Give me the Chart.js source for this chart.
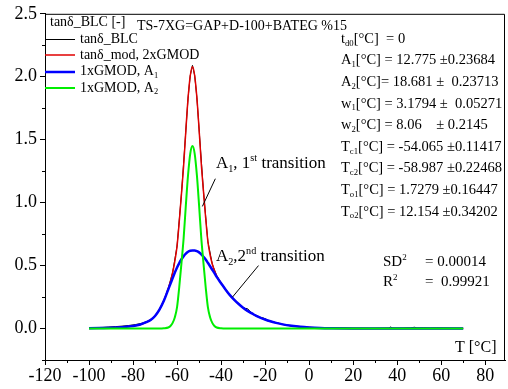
<!DOCTYPE html>
<html>
<head>
<meta charset="utf-8">
<script src="https://cdn.jsdelivr.net/npm/chart.js@4.4.0/dist/chart.umd.min.js"></script>
<style>
  html, body { margin: 0; padding: 0; background: #fff; }
  #wrap { width: 508px; height: 389px; }
</style>
</head>
<body>
<div id="wrap"><canvas id="chart" width="508" height="389"></canvas></div>
<script>
// Temperature grid shared by the fitted curves [°C]
const temps = [-100, -95, -90, -85, -80, -77, -74, -72, -70, -68, -66, -64, -63, -62, -61,
  -60, -59, -58, -57, -56, -55, -54, -53, -52, -51, -50, -49, -48, -47, -46, -45, -44, -43,
  -42, -40, -38, -36, -34, -32, -30, -28, -26, -24, -22, -20, -18, -15, -12, -8, -4, 0, 5,
  10, 20, 30, 40, 50, 60, 70];

// 1xGMOD, A1 (wide peak)
const gmodA1 = [0.002, 0.004, 0.006, 0.011, 0.02, 0.03, 0.05, 0.068, 0.10, 0.15, 0.22, 0.31,
  0.355, 0.40, 0.445, 0.485, 0.52, 0.55, 0.575, 0.595, 0.61, 0.618, 0.62, 0.62, 0.615, 0.605,
  0.59, 0.57, 0.548, 0.522, 0.495, 0.467, 0.44, 0.41, 0.36, 0.31, 0.265, 0.228, 0.195, 0.165,
  0.14, 0.12, 0.10, 0.085, 0.072, 0.06, 0.045, 0.033, 0.022, 0.014, 0.009, 0.005, 0.003,
  0.001, 0, 0, 0, 0, 0];

// 1xGMOD, A2 (narrow peak)
const gmodA2 = [0, 0, 0, 0, 0, 0, 0, 0, 0, 0, 0.002, 0.008, 0.02, 0.045, 0.09, 0.17, 0.33,
  0.52, 0.72, 0.98, 1.22, 1.39, 1.45, 1.39, 1.22, 0.98, 0.72, 0.52, 0.33, 0.17, 0.09, 0.045,
  0.02, 0.008, 0.002, 0, 0, 0, 0, 0, 0, 0, 0, 0, 0, 0, 0, 0, 0, 0, 0, 0, 0, 0, 0, 0, 0, 0, 0];

// tanδ_mod, 2xGMOD (sum of both)
const tanMod = [0.002, 0.004, 0.006, 0.011, 0.02, 0.03, 0.05, 0.068, 0.10, 0.15, 0.222, 0.318,
  0.375, 0.445, 0.535, 0.655, 0.85, 1.07, 1.295, 1.575, 1.83, 2.008, 2.08, 2.01, 1.835, 1.585,
  1.31, 1.09, 0.878, 0.692, 0.585, 0.512, 0.46, 0.418, 0.362, 0.31, 0.265, 0.228, 0.195,
  0.165, 0.14, 0.12, 0.10, 0.085, 0.072, 0.06, 0.045, 0.033, 0.022, 0.014, 0.009, 0.005,
  0.003, 0.001, 0, 0, 0, 0, 0];

// measured tanδ_BLC
const blcTemps = [-100, -97, -94, -91, -88, -85, -82, -79, -76, -73, -70, -68, -66, -64, -62,
  -60, -58, -56, -55, -54, -53, -52, -51, -50, -48, -46, -44, -42, -40, -38, -36, -34, -32,
  -30, -29, -28, -27, -26, -25, -24, -22, -21, -20, -18, -16, -14, -12, -10, -8, -6, -4, -2,
  0, 3, 6, 9, 12, 15, 18, 21, 24, 27, 30, 33, 36, 37, 38, 40, 43, 46, 48, 49, 52, 55, 58, 61,
  64, 67, 70];
const blcValues = [0.004, 0.007, 0.009, 0.012, 0.015, 0.019, 0.024, 0.031, 0.042, 0.06, 0.10,
  0.15, 0.222, 0.318, 0.445, 0.655, 1.07, 1.575, 1.83, 2.01, 2.09, 2.01, 1.835, 1.585, 1.09,
  0.692, 0.512, 0.418, 0.362, 0.31, 0.265, 0.226, 0.19, 0.168, 0.16, 0.158, 0.14, 0.125, 0.11,
  0.105, 0.088, 0.085, 0.078, 0.06, 0.05, 0.043, 0.033, 0.027, 0.021, 0.018, 0.013, 0.011,
  0.009, 0.007, 0.005, 0.004, 0.003, 0.004, 0.003, 0.002, 0.002, 0.001, 0.001, 0.002, 0.003,
  0.012, 0.004, 0.003, 0.004, 0.006, 0.01, 0.005, 0.006, 0.004, 0.005, 0.004, 0.003, 0.002,
  0.002];

const xTicks = [-120, -100, -80, -60, -40, -20, 0, 20, 40, 60, 80];
const xMinorTicks = [-110, -90, -70, -50, -30, -10, 10, 30, 50, 70];
const yTicks = [0, 0.5, 1.0, 1.5, 2.0, 2.5];
const yMinorTicks = [-0.25, 0.25, 0.75, 1.25, 1.75, 2.25];

const FONT = '"Liberation Serif", "Times New Roman", serif';
const COLORS = {
  data: '#000000',
  model: '#e00000',
  a1: '#0000ff',
  a2: '#00ee00'
};

const toPoints = (xs, ys) => xs.map((x, i) => ({ x: x, y: ys[i] }));

// fit results, drawn as text on the right
const PARAM_LINES = [
  [['t'], ['d0', 'sub'], ['[°C]  = 0']],
  [['A'], ['1', 'sub'], ['[°C] = 12.775 ±0.23684']],
  [['A'], ['2', 'sub'], ['[°C]= 18.681 ±  0.23713']],
  [['w'], ['1', 'sub'], ['[°C] = 3.1794 ±  0.05271']],
  [['w'], ['2', 'sub'], ['[°C] = 8.06    ± 0.2145']],
  [['T'], ['c1', 'sub'], ['[°C] = -54.065 ±0.11417']],
  [['T'], ['c2', 'sub'], ['[°C] = -58.987 ±0.22468']],
  [['T'], ['o1', 'sub'], ['[°C] = 1.7279 ±0.16447']],
  [['T'], ['o2', 'sub'], ['[°C] = 12.154 ±0.34202']]
];

function drawRich(ctx, x, y, parts, size) {
  let cx = x;
  parts.forEach(p => {
    const text = p[0];
    const mode = p[1] || '';
    const fs = mode ? size * 0.6 : size;
    ctx.font = fs + 'px ' + FONT;
    let dy = 0;
    if (mode === 'sub') dy = size * 0.3;
    if (mode === 'sup') dy = -size * 0.32;
    ctx.fillText(text, cx, y + dy);
    cx += ctx.measureText(text).width;
  });
  return cx;
}

const decorPlugin = {
  id: 'decor',
  afterDraw(chart) {
    const ctx = chart.ctx;
    const area = chart.chartArea;
    const xs = chart.scales.x;
    const ys = chart.scales.y;
    ctx.save();
    ctx.strokeStyle = '#000';
    ctx.lineWidth = 1;

    // frame top / right
    ctx.beginPath();
    ctx.moveTo(area.left, area.top + 0.5);
    ctx.lineTo(area.right - 0.5, area.top + 0.5);
    ctx.lineTo(area.right - 0.5, area.bottom);
    ctx.stroke();

    // minor ticks
    ctx.beginPath();
    xMinorTicks.forEach(v => {
      const px = Math.round(xs.getPixelForValue(v)) + 0.5;
      ctx.moveTo(px, area.bottom);
      ctx.lineTo(px, area.bottom + 3);
    });
    yMinorTicks.forEach(v => {
      const py = Math.round(ys.getPixelForValue(v)) + 0.5;
      ctx.moveTo(area.left, py);
      ctx.lineTo(area.left - 3, py);
    });
    ctx.stroke();

    ctx.fillStyle = '#000';
    ctx.textBaseline = 'middle';
    ctx.textAlign = 'left';

    // legend
    drawRich(ctx, 50, 22, [['tanδ_BLC [-]']], 14);
    const legend = [
      { color: COLORS.data, width: 1, parts: [['tanδ_BLC']] },
      { color: COLORS.model, width: 1.5, parts: [['tanδ_mod, 2xGMOD']] },
      { color: COLORS.a1, width: 2.5, parts: [['1xGMOD, A'], ['1', 'sub']] },
      { color: COLORS.a2, width: 2, parts: [['1xGMOD, A'], ['2', 'sub']] }
    ];
    legend.forEach((item, i) => {
      const y = 39 + i * 16.3;
      const ly = Math.round(y) + (item.width % 2 === 1 ? 0.5 : 0);
      ctx.strokeStyle = item.color;
      ctx.lineWidth = item.width;
      ctx.beginPath();
      ctx.moveTo(area.left, ly);
      ctx.lineTo(area.left + 30, ly);
      ctx.stroke();
      drawRich(ctx, 80, y, item.parts, 14);
    });

    // sample title
    drawRich(ctx, 137, 26, [['TS-7XG=GAP+D-100+BATEG %15']], 14);

    // fit parameters
    PARAM_LINES.forEach((parts, i) => {
      drawRich(ctx, 341, 39 + i * 21.6, parts, 14.5);
    });
    drawRich(ctx, 383, 262, [['SD'], ['2', 'sup']], 15);
    drawRich(ctx, 425, 262, [['= 0.00014']], 15);
    drawRich(ctx, 383, 282, [['R'], ['2', 'sup']], 15);
    drawRich(ctx, 425, 282, [['=  0.99921']], 15);

    // peak annotations with leader lines
    drawRich(ctx, 216, 164, [['A'], ['1', 'sub'], [', 1'], ['st', 'sup'], [' transition']], 17);
    drawRich(ctx, 216, 257, [['A'], ['2', 'sub'], [',2'], ['nd', 'sup'], [' transition']], 17);
    ctx.strokeStyle = '#000';
    ctx.lineWidth = 1;
    ctx.beginPath();
    ctx.moveTo(xs.getPixelForValue(-48.5), ys.getPixelForValue(0.97));
    ctx.lineTo(xs.getPixelForValue(-42.6), ys.getPixelForValue(1.19));
    ctx.moveTo(xs.getPixelForValue(-34.8), ys.getPixelForValue(0.25));
    ctx.lineTo(xs.getPixelForValue(-23.0), ys.getPixelForValue(0.50));
    ctx.stroke();

    // axis title
    drawRich(ctx, 455, 348, [['T [°C]']], 16);
    ctx.restore();
  }
};

new Chart(document.getElementById('chart'), {
  type: 'line',
  data: {
    datasets: [{
      label: 'tanδ_BLC',
      data: toPoints(blcTemps, blcValues),
      borderColor: COLORS.data,
      borderWidth: 1,
      order: 4
    }, {
      label: 'tanδ_mod, 2xGMOD',
      data: toPoints(temps, tanMod),
      borderColor: COLORS.model,
      borderWidth: 1.5,
      cubicInterpolationMode: 'monotone',
      order: 3
    }, {
      label: '1xGMOD, A1',
      data: toPoints(temps, gmodA1),
      borderColor: COLORS.a1,
      borderWidth: 2.5,
      cubicInterpolationMode: 'monotone',
      order: 2
    }, {
      label: '1xGMOD, A2',
      data: toPoints(temps, gmodA2),
      borderColor: COLORS.a2,
      borderWidth: 2,
      cubicInterpolationMode: 'monotone',
      order: 1
    }]
  },
  options: {
    responsive: false,
    animation: false,
    devicePixelRatio: 1,
    parsing: false,
    elements: { point: { radius: 0 }, line: { fill: false } },
    layout: { padding: { top: 13, right: 3, left: 0, bottom: 0 } },
    plugins: { legend: { display: false }, tooltip: { enabled: false } },
    scales: {
      x: {
        type: 'linear',
        min: -120,
        max: 89,
        afterBuildTicks: s => { s.ticks = xTicks.map(v => ({ value: v })); },
        afterFit: s => { s.height = 29; },
        ticks: {
          color: '#000',
          font: { family: FONT, size: 18 },
          padding: 0,
          maxRotation: 0,
          autoSkip: false,
          callback: v => String(v)
        },
        grid: { display: true, drawOnChartArea: false, drawTicks: true, tickLength: 5, color: '#000' },
        border: { display: true, color: '#000', width: 1 }
      },
      y: {
        type: 'linear',
        min: -0.25,
        max: 2.5,
        afterBuildTicks: s => { s.ticks = yTicks.map(v => ({ value: v })); },
        afterFit: s => { s.width = 45; },
        ticks: {
          color: '#000',
          font: { family: FONT, size: 18 },
          padding: 3,
          autoSkip: false,
          callback: v => v.toFixed(1)
        },
        grid: { display: true, drawOnChartArea: false, drawTicks: true, tickLength: 5, color: '#000' },
        border: { display: true, color: '#000', width: 1 }
      }
    }
  },
  plugins: [decorPlugin]
});
</script>
</body>
</html>
